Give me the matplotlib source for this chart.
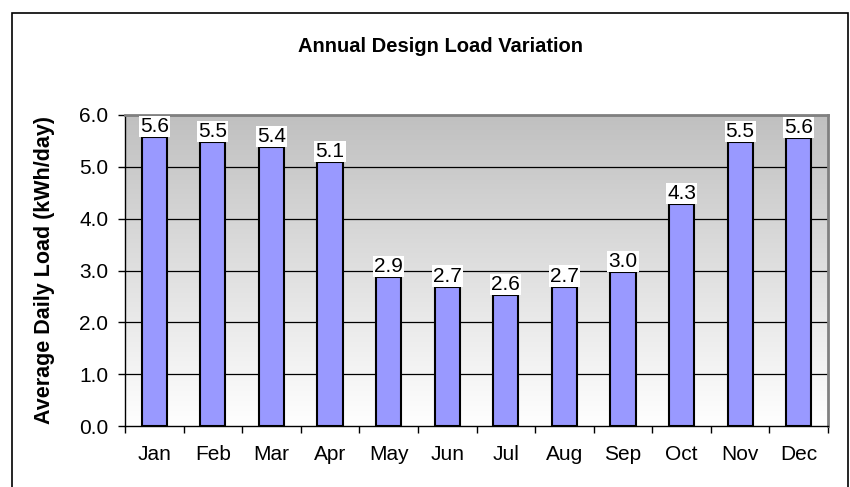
#!/usr/bin/env python3

import numpy as np
import matplotlib.pyplot as plt
from matplotlib.colors import LinearSegmentedColormap
from matplotlib.patches import Rectangle

months = ['Jan', 'Feb', 'Mar', 'Apr', 'May', 'Jun',
          'Jul', 'Aug', 'Sep', 'Oct', 'Nov', 'Dec']
load = [5.58, 5.48, 5.38, 5.1, 2.88, 2.69, 2.53, 2.69, 2.97, 4.28, 5.48, 5.55]
labels = ['5.6', '5.5', '5.4', '5.1', '2.9', '2.7',
          '2.6', '2.7', '3.0', '4.3', '5.5', '5.6']
yticks = [0, 1, 2, 3, 4, 5, 6]

plt.rcParams['font.family'] = ['Liberation Sans', 'DejaVu Sans']

fig = plt.figure(figsize=(8.5, 4.87), dpi=100)
ax = fig.add_axes([125/850, 1 - 426/487, (828 - 125)/850, (426 - 115)/487])

# outer chart border
fig.add_artist(Rectangle((12/850, -0.05), (848 - 12)/850, 1.05 - 13/487,
                         transform=fig.transFigure, fill=False,
                         edgecolor='black', linewidth=1.2))

x = np.arange(len(months))
ax.set_xlim(-0.5, len(months) - 0.5)
ax.set_ylim(0, 6)

# gray-to-white gradient background
bg = LinearSegmentedColormap.from_list('bg', ['#ffffff', '#c0c0c0'])
grad = np.linspace(1.0, 0.0, 256).reshape(-1, 1)
ax.imshow(grad, cmap=bg, vmin=0, vmax=1,
          extent=[-0.5, len(months) - 0.5, 0, 6], aspect='auto', zorder=0,
          interpolation='bicubic')

for v in yticks[1:]:
    ax.axhline(v, color='black', linewidth=0.9, zorder=1)

ax.bar(x, load, width=0.43, color='#9999ff', edgecolor='black',
       linewidth=1.5, zorder=2)

for xi, v, lab in zip(x, load, labels):
    ax.text(xi, v + 0.02, lab, ha='center', va='bottom', fontsize=15,
            zorder=3, bbox=dict(facecolor='white', edgecolor='none', pad=0.8))

ax.set_yticks(yticks)
ax.set_yticklabels(['%.1f' % v for v in yticks], fontsize=15)
ax.set_xticks(np.arange(len(months) + 1) - 0.5)
ax.set_xticklabels([])
ax.set_xticks(x, minor=True)
ax.set_xticklabels(months, minor=True, fontsize=15)
ax.tick_params(axis='x', which='major', direction='out', length=5, width=1)
ax.tick_params(axis='x', which='minor', length=0, pad=14)
ax.tick_params(axis='y', direction='out', length=5, width=1, pad=7)

for s in ['top', 'right']:
    ax.spines[s].set_color('#808080')
    ax.spines[s].set_linewidth(2)
for s in ['left', 'bottom']:
    ax.spines[s].set_color('black')
    ax.spines[s].set_linewidth(1)

ax.set_ylabel('Average Daily Load (kWh/day)', fontsize=15.5, fontweight='bold')
ax.yaxis.set_label_coords((55 - 125) / 703, 0.5)
fig.text(440/850, 1 - 47/487, 'Annual Design Load Variation', ha='center',
         va='center', fontsize=14.5, fontweight='bold')

fig.savefig('out.png', dpi=100)
